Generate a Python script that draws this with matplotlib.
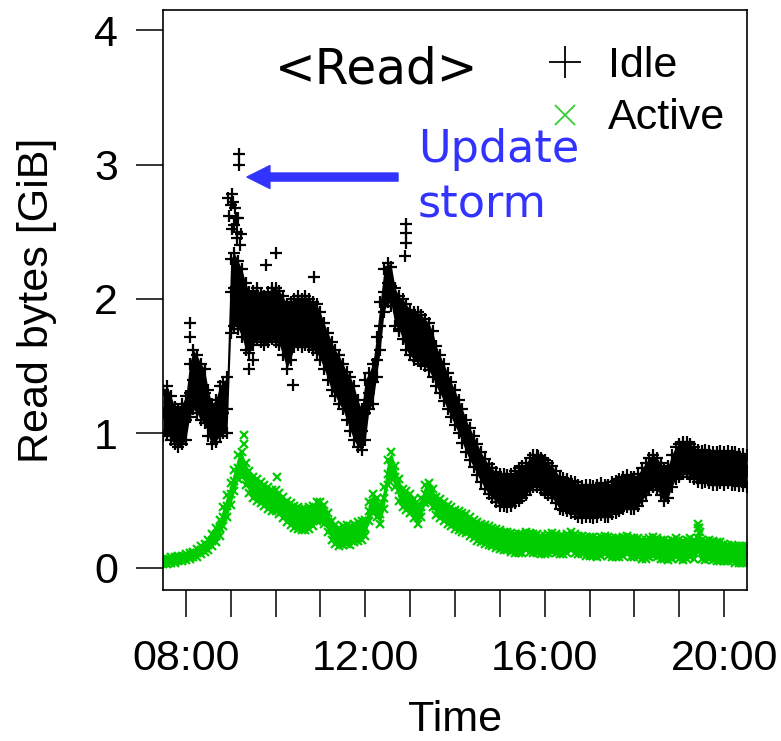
import numpy as np
import matplotlib
matplotlib.use('Agg')
import matplotlib.pyplot as plt

plt.rcParams['font.family'] = ['Liberation Sans', 'DejaVu Sans']

# sample times: every 5 minutes from 07:30 to 20:30 (in hours)
times = np.arange(7.5, 20.5 + 0.01, 5 / 60.)

# Idle read bytes [GiB]: lower edge, middle and upper edge of the scatter band
idle_lo = [0.98, 1.00, 0.95, 0.92, 0.90, 0.92,
           0.95, 1.12, 1.18, 1.15, 1.10, 1.08, 0.98, 0.92, 0.94, 0.98, 1.00, 1.00,
           1.75, 1.80, 1.78, 1.72, 1.62, 1.60, 1.66, 1.70, 1.68, 1.66, 1.68, 1.70,
           1.68, 1.66, 1.58, 1.48, 1.55, 1.64, 1.66, 1.64, 1.66, 1.64, 1.62, 1.60,
           1.55, 1.48, 1.40, 1.32, 1.28, 1.22, 1.18, 1.10, 1.02, 0.95, 0.90, 0.88,
           0.95, 1.18, 1.22, 1.42, 1.62, 1.90, 1.98, 1.95, 1.80, 1.78, 1.70, 1.62,
           1.58, 1.55, 1.54, 1.52, 1.50, 1.47, 1.42, 1.35, 1.30, 1.24, 1.18, 1.12,
           1.06, 1.00, 0.93, 0.86, 0.80, 0.75, 0.69, 0.64, 0.59, 0.55, 0.52, 0.49,
           0.46, 0.46, 0.45, 0.46, 0.48, 0.50, 0.52, 0.54, 0.58, 0.60, 0.60, 0.58,
           0.56, 0.54, 0.52, 0.48, 0.44, 0.43, 0.42, 0.41, 0.40, 0.38, 0.37, 0.38,
           0.38, 0.37, 0.38, 0.39, 0.38, 0.38, 0.40, 0.41, 0.42, 0.44, 0.45, 0.44,
           0.44, 0.46, 0.50, 0.54, 0.58, 0.60, 0.58, 0.54, 0.50, 0.52, 0.60, 0.66,
           0.68, 0.70, 0.70, 0.68, 0.66, 0.64, 0.63, 0.64, 0.63, 0.62, 0.62, 0.63,
           0.62, 0.63, 0.62, 0.62, 0.61, 0.61, 0.60]
idle_mid = [1.15, 1.18, 1.12, 1.05, 1.02, 1.05,
            1.10, 1.30, 1.40, 1.38, 1.32, 1.30, 1.15, 1.05, 1.08, 1.12, 1.15, 1.18,
            2.05, 2.08, 2.02, 2.00, 1.88, 1.82, 1.85, 1.88, 1.86, 1.84, 1.86, 1.88,
            1.88, 1.86, 1.80, 1.72, 1.76, 1.82, 1.84, 1.82, 1.84, 1.82, 1.80, 1.78,
            1.72, 1.65, 1.58, 1.50, 1.45, 1.40, 1.35, 1.28, 1.22, 1.15, 1.08, 1.02,
            1.15, 1.30, 1.38, 1.55, 1.80, 2.05, 2.12, 2.10, 1.95, 1.90, 1.88, 1.82,
            1.75, 1.72, 1.72, 1.70, 1.68, 1.65, 1.60, 1.50, 1.44, 1.38, 1.31, 1.25,
            1.19, 1.12, 1.05, 0.98, 0.92, 0.86, 0.80, 0.75, 0.70, 0.66, 0.63, 0.60,
            0.58, 0.58, 0.57, 0.58, 0.60, 0.62, 0.64, 0.66, 0.70, 0.72, 0.72, 0.70,
            0.68, 0.66, 0.64, 0.60, 0.56, 0.55, 0.54, 0.53, 0.52, 0.50, 0.49, 0.50,
            0.50, 0.49, 0.50, 0.51, 0.50, 0.50, 0.52, 0.53, 0.54, 0.56, 0.57, 0.56,
            0.56, 0.58, 0.62, 0.66, 0.70, 0.72, 0.70, 0.66, 0.62, 0.64, 0.72, 0.78,
            0.80, 0.82, 0.82, 0.80, 0.78, 0.76, 0.75, 0.76, 0.75, 0.74, 0.74, 0.75,
            0.74, 0.75, 0.74, 0.74, 0.73, 0.73, 0.72]
idle_hi = [1.32, 1.35, 1.28, 1.20, 1.18, 1.22,
           1.28, 1.52, 1.62, 1.58, 1.52, 1.48, 1.32, 1.22, 1.25, 1.35, 1.38, 1.42,
           2.30, 2.34, 2.28, 2.22, 2.12, 2.05, 2.06, 2.08, 2.04, 2.02, 2.05, 2.08,
           2.08, 2.06, 2.02, 1.96, 1.98, 2.00, 2.02, 2.00, 2.02, 2.00, 1.98, 1.96,
           1.90, 1.82, 1.75, 1.68, 1.62, 1.58, 1.52, 1.46, 1.42, 1.35, 1.25, 1.18,
           1.40, 1.45, 1.52, 1.72, 1.98, 2.22, 2.27, 2.24, 2.08, 2.02, 2.00, 1.96,
           1.92, 1.90, 1.90, 1.88, 1.85, 1.82, 1.76, 1.65, 1.58, 1.52, 1.45, 1.38,
           1.32, 1.25, 1.18, 1.10, 1.04, 0.98, 0.92, 0.86, 0.81, 0.77, 0.74, 0.71,
           0.70, 0.70, 0.69, 0.70, 0.72, 0.74, 0.76, 0.78, 0.82, 0.84, 0.84, 0.82,
           0.80, 0.78, 0.76, 0.72, 0.68, 0.67, 0.66, 0.65, 0.64, 0.62, 0.61, 0.62,
           0.62, 0.61, 0.62, 0.63, 0.62, 0.62, 0.64, 0.65, 0.66, 0.68, 0.69, 0.68,
           0.68, 0.70, 0.74, 0.78, 0.82, 0.84, 0.82, 0.78, 0.74, 0.76, 0.84, 0.90,
           0.92, 0.94, 0.94, 0.92, 0.90, 0.88, 0.87, 0.88, 0.87, 0.86, 0.86, 0.87,
           0.86, 0.87, 0.86, 0.86, 0.85, 0.85, 0.84]
# stray idle points (update storm cluster and other outliers)
idle_out_t = [8.1, 8.1, 8.95, 8.97, 9.0, 9.02, 9.03, 9.05, 9.07, 9.1, 9.12, 9.13,
              9.15, 9.17, 9.18, 9.18, 9.2, 9.22,
              9.4, 9.5, 9.78, 10.0, 10.38, 10.85, 12.75, 12.88, 12.9, 12.9, 12.9, 15.84]
idle_out_v = [1.82, 1.72, 2.75, 2.62, 2.70, 2.52, 2.78, 2.72, 2.55, 2.68, 2.60, 2.45,
              2.50, 2.60, 3.08, 3.00, 2.40, 2.48,
              1.48, 1.55, 2.25, 2.34, 1.36, 2.16, 1.76, 2.32, 2.42, 2.49, 2.56, 0.83]

# Active read bytes [GiB]
act_lo = [0.03, 0.03, 0.04, 0.04, 0.05, 0.05,
          0.06, 0.07, 0.08, 0.08, 0.10, 0.12, 0.13, 0.16, 0.19, 0.24, 0.31, 0.38,
          0.47, 0.57, 0.66, 0.68, 0.62, 0.56, 0.52, 0.50, 0.48, 0.46, 0.44, 0.42,
          0.42, 0.40, 0.37, 0.34, 0.32, 0.30, 0.29, 0.28, 0.28, 0.29, 0.31, 0.35,
          0.35, 0.33, 0.27, 0.21, 0.18, 0.16, 0.17, 0.18, 0.17, 0.19, 0.20, 0.21,
          0.24, 0.35, 0.41, 0.38, 0.33, 0.44, 0.62, 0.67, 0.60, 0.50, 0.45, 0.43,
          0.41, 0.37, 0.33, 0.38, 0.48, 0.49, 0.45, 0.39, 0.37, 0.35, 0.33, 0.31,
          0.29, 0.28, 0.27, 0.26, 0.24, 0.22, 0.20, 0.19, 0.18, 0.17, 0.16, 0.15,
          0.14, 0.13, 0.13, 0.12, 0.11, 0.11, 0.11, 0.13, 0.12, 0.11, 0.11, 0.10,
          0.10, 0.11, 0.12, 0.11, 0.10, 0.10, 0.11, 0.13, 0.11, 0.10, 0.10, 0.09,
          0.09, 0.09, 0.08, 0.09, 0.10, 0.09, 0.08, 0.08, 0.08, 0.09, 0.10, 0.08,
          0.08, 0.08, 0.07, 0.07, 0.08, 0.09, 0.08, 0.07, 0.07, 0.06, 0.07, 0.08,
          0.07, 0.06, 0.07, 0.08, 0.07, 0.12, 0.07, 0.06, 0.07, 0.06, 0.05, 0.05,
          0.05, 0.05, 0.05, 0.04, 0.04, 0.04, 0.04]
act_hi = [0.07, 0.07, 0.08, 0.08, 0.09, 0.09,
          0.10, 0.11, 0.12, 0.14, 0.16, 0.18, 0.21, 0.25, 0.30, 0.36, 0.45, 0.54,
          0.63, 0.73, 0.84, 0.86, 0.78, 0.72, 0.68, 0.66, 0.64, 0.62, 0.60, 0.58,
          0.58, 0.56, 0.53, 0.50, 0.48, 0.46, 0.45, 0.44, 0.44, 0.45, 0.46, 0.49,
          0.49, 0.47, 0.41, 0.35, 0.32, 0.30, 0.31, 0.32, 0.31, 0.33, 0.34, 0.35,
          0.36, 0.49, 0.55, 0.52, 0.47, 0.60, 0.80, 0.86, 0.76, 0.66, 0.59, 0.57,
          0.55, 0.51, 0.47, 0.52, 0.62, 0.63, 0.59, 0.53, 0.51, 0.49, 0.47, 0.45,
          0.43, 0.42, 0.41, 0.40, 0.38, 0.36, 0.34, 0.33, 0.32, 0.31, 0.30, 0.29,
          0.28, 0.27, 0.27, 0.26, 0.25, 0.25, 0.25, 0.27, 0.26, 0.25, 0.25, 0.24,
          0.24, 0.25, 0.26, 0.25, 0.24, 0.24, 0.25, 0.27, 0.25, 0.24, 0.24, 0.23,
          0.23, 0.23, 0.22, 0.23, 0.24, 0.23, 0.22, 0.22, 0.22, 0.23, 0.24, 0.22,
          0.22, 0.22, 0.21, 0.21, 0.22, 0.23, 0.22, 0.21, 0.21, 0.20, 0.21, 0.22,
          0.21, 0.20, 0.21, 0.22, 0.21, 0.30, 0.21, 0.20, 0.21, 0.20, 0.19, 0.19,
          0.18, 0.17, 0.17, 0.16, 0.16, 0.16, 0.16]
act_mid = [0.05, 0.05, 0.06, 0.06, 0.07, 0.07,
           0.08, 0.09, 0.10, 0.11, 0.13, 0.15, 0.17, 0.20, 0.24, 0.30, 0.38, 0.46,
           0.55, 0.65, 0.74, 0.76, 0.70, 0.64, 0.60, 0.58, 0.56, 0.54, 0.52, 0.50,
           0.50, 0.48, 0.45, 0.42, 0.40, 0.38, 0.37, 0.36, 0.36, 0.37, 0.38, 0.42,
           0.42, 0.40, 0.34, 0.28, 0.25, 0.23, 0.24, 0.25, 0.24, 0.26, 0.27, 0.28,
           0.30, 0.42, 0.48, 0.45, 0.40, 0.52, 0.70, 0.76, 0.68, 0.58, 0.52, 0.50,
           0.48, 0.44, 0.40, 0.45, 0.55, 0.56, 0.52, 0.46, 0.44, 0.42, 0.40, 0.38,
           0.36, 0.35, 0.34, 0.33, 0.31, 0.29, 0.27, 0.26, 0.25, 0.24, 0.23, 0.22,
           0.21, 0.20, 0.20, 0.19, 0.18, 0.18, 0.18, 0.20, 0.19, 0.18, 0.18, 0.17,
           0.17, 0.18, 0.19, 0.18, 0.17, 0.17, 0.18, 0.20, 0.18, 0.17, 0.17, 0.16,
           0.16, 0.16, 0.15, 0.16, 0.17, 0.16, 0.15, 0.15, 0.15, 0.16, 0.17, 0.15,
           0.15, 0.15, 0.14, 0.14, 0.15, 0.16, 0.15, 0.14, 0.14, 0.13, 0.14, 0.15,
           0.14, 0.13, 0.14, 0.15, 0.14, 0.22, 0.14, 0.13, 0.14, 0.13, 0.12, 0.12,
           0.12, 0.11, 0.11, 0.10, 0.10, 0.10, 0.10]
act_out_t = [9.29, 9.29, 10.03, 19.42, 19.44, 19.46]
act_out_v = [0.99, 0.92, 0.68, 0.33, 0.30, 0.27]

hour_ticks = list(range(8, 21))
hour_labels = ['08:00', '', '', '', '12:00', '', '', '', '16:00', '', '', '', '20:00']
y_ticks = [0, 1, 2, 3, 4]

green = '#00CD00'
blue = '#3333FF'

fig = plt.figure(figsize=(7.81, 7.41), dpi=100)
ax = fig.add_axes([163 / 781, 1 - 590 / 741, 584 / 781, 580 / 741])

# dense scatter bands: filled core plus sample markers
ax.fill_between(times, idle_lo, idle_hi, color='black', lw=0)
for vals in (idle_lo, idle_hi, idle_mid):
    ax.plot(times, vals, ls='none', marker='+', ms=8.5, mew=1.6, color='black')
ax.plot(idle_out_t, idle_out_v, ls='none', marker='+', ms=8.5, mew=1.6, color='black')

ax.fill_between(times, act_lo, act_hi, color=green, lw=0)
for vals in (act_lo, act_hi, act_mid):
    ax.plot(times, vals, ls='none', marker='x', ms=5.5, mew=1.6, color=green)
ax.plot(act_out_t, act_out_v, ls='none', marker='x', ms=5.5, mew=1.6, color=green)

ax.set_xlim(7.49, 20.51)
ax.set_ylim(-0.164, 4.149)
ax.set_xticks(hour_ticks)
ax.set_xticklabels(hour_labels)
ax.set_yticks(y_ticks)
ax.tick_params(length=19.5, width=1.1, labelsize=31)
ax.tick_params(axis='x', pad=16)
ax.tick_params(axis='y', pad=13)
for sp in ax.spines.values():
    sp.set_linewidth(1.2)

ax.set_xlabel('Time', fontsize=31)
ax.xaxis.set_label_coords(0.5, (590 - 731) / 580)
ax.xaxis.label.set_va('baseline')
ax.set_ylabel('Read bytes [GiB]', fontsize=31)
ax.yaxis.set_label_coords((48 - 163) / 584, 0.5)
ax.yaxis.label.set_va('baseline')

# title inside the box
ax.text(0.192, 0.874, '<Read>', transform=ax.transAxes, fontsize=35,
        family='DejaVu Sans', va='baseline', ha='left')

# legend
ax.plot([0.688], [0.910], marker='+', ms=23, mew=1.3, color='black',
        transform=ax.transAxes, clip_on=False)
ax.plot([0.688], [0.819], marker='x', ms=15, mew=1.3, color='#33CC33',
        transform=ax.transAxes, clip_on=False)
ax.text(0.762, 0.8845, 'Idle', transform=ax.transAxes, fontsize=31, va='baseline')
ax.text(0.762, 0.795, 'Active', transform=ax.transAxes, fontsize=31, va='baseline')

# annotation
ax.annotate('', xy=(0.1438, 0.712), xytext=(0.4024, 0.712),
            xycoords='axes fraction', textcoords='axes fraction',
            arrowprops=dict(facecolor=blue, edgecolor=blue, width=5.8,
                            headwidth=16.5, headlength=16.5, shrink=0))
ax.text(0.4366, 0.738, 'Update', transform=ax.transAxes, fontsize=32,
        family='DejaVu Sans', color=blue, va='baseline')
ax.text(0.4366, 0.643, 'storm', transform=ax.transAxes, fontsize=32,
        family='DejaVu Sans', color=blue, va='baseline')

fig.savefig('out.png', dpi=100)
